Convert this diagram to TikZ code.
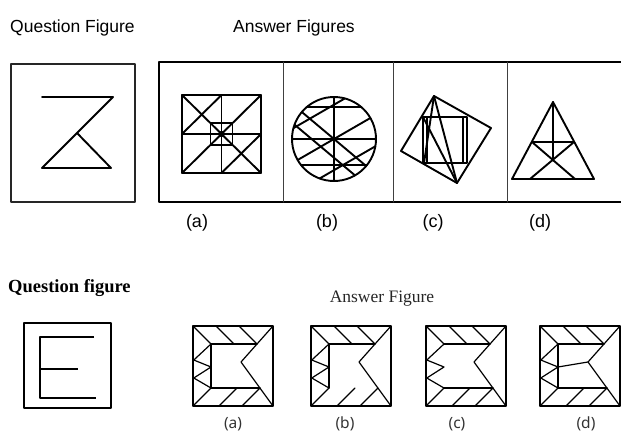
\documentclass[tikz,border=0pt]{standalone}
\usepackage{fontspec}
\setmainfont{Liberation Serif}
\newfontfamily\headsans{Liberation Sans}
\newfontfamily\labsans{Noto Sans}
\newcommand{\frameBase}{%
  \draw[frame] (0,0) rectangle (80,80);
  \draw[inner] (0,0) -- (18,18);
  \draw[inner] (23,0) -- (41,18);
  \draw[inner] (46,0) -- (64,18);
  \draw[inner] (80,0) -- (48,36) -- (80,80);
  \draw[inner] (0,80) -- (18,62);
  \draw[inner] (26,80) -- (44,62);
  \draw[inner] (49,80) -- (67,62);
  \draw[inner] (18,18) -- (64,18);
  \draw[inner] (18,18) -- (0.8,34) -- (18,41) -- (0.8,52) -- (18,62);
}
\begin{document}
\begin{tikzpicture}[x=1pt,y=-1pt,line join=round,line cap=round,
  qbox/.style={draw=black!85,line width=1.6pt},
  fig/.style={line width=1.9pt},
  divline/.style={line width=1pt,black!75},
  frame/.style={line width=2.2pt},
  inner/.style={line width=1.2pt},
  headtxt/.style={font=\headsans\fontsize{17.5}{20}\selectfont,anchor=base west,inner sep=0pt},
  toplab/.style={font=\headsans\fontsize{18}{20}\selectfont,inner sep=0pt,anchor=base},
  botlab/.style={font=\labsans\fontsize{15.5}{18}\selectfont,inner sep=0pt,text=black!80,anchor=base}]
\useasboundingbox (0,0) rectangle (621,434);

% ---------- top headings ----------
\node[headtxt] (qhead) at (10,32) {Question Figure};
\node[headtxt] (ahead) at (233,32) {Answer Figures};

% ---------- top question figure ----------
\draw[qbox] (11,64) rectangle (135,202);
\draw[fig] (42,97) -- (113,97) -- (42,168) -- (111,168) -- (77,133);

% ---------- top answer box ----------
\draw[line width=1.8pt] (621,62) -- (159,62) -- (159,202) -- (621,202);
\draw[divline] (283,62) -- (283,202);
\draw[divline] (393,62) -- (393,202);
\draw[divline] (507,62) -- (507,202);

% (a) square figure
\draw[fig] (182,95) rectangle (261,173);
\draw[fig] (221.5,95) -- (221.5,173);
\draw[fig] (182,134) -- (261,134);
\draw[fig] (182,173) -- (261,95);
\draw[fig] (182,95) -- (221.5,134) -- (261,173);
\draw[fig] (182,134) -- (221.5,95);
\draw[fig] (221.5,173) -- (261,134);
\draw[fig] (210.5,123) rectangle (232.5,145);
\fill (221.5,134) circle[radius=3.2];

% (b) circle figure
\begin{scope}[shift={(334,139)},yscale=-1]
\draw[fig] (0,0) circle[radius=42];
\draw[fig] (90:42) -- (270:42);
\draw[fig] (180:42) -- (0:42);
\draw[fig] (130.4:42) -- (49.6:42);
\draw[fig] (218.2:42) -- (321.8:42);
\draw[fig] (210:42) -- (30:42);
\draw[fig] (165:42) -- (75:42);
\draw[fig] (250:42) -- (350:42);
\draw[fig] (140:42) -- (320:42);
\draw[fig] (160:42) -- (300:42);
\end{scope}

% (c) tilted square figure
\draw[fig] (434,96) -- (491,128) -- (457,183) -- (401,151) -- cycle;
\draw[fig] (423,117) rectangle (467,163);
\draw[fig] (427,117) -- (427,163);
\draw[fig] (463,117) -- (463,163);
\draw[fig] (434,96) -- (457,183);
\draw[fig] (434,96) -- (424,163);
\draw[fig] (423,117) -- (457,183);

% (d) triangle figure
\draw[fig] (553,102) -- (594,179) -- (512,179) -- cycle;
\draw[fig] (532,142) -- (574,142);
\draw[fig] (553,102) -- (553,160);
\draw[fig] (532,142) -- (575,179);
\draw[fig] (574,142) -- (530,179);

% top labels
\node[toplab] (ta) at (197,227) {(a)};
\node[toplab] (tb) at (327,227) {(b)};
\node[toplab] (tc) at (433,227) {(c)};
\node[toplab] (td) at (540,227) {(d)};

% ---------- bottom headings ----------
\node[anchor=base west,inner sep=0pt,font=\bfseries\fontsize{18.5}{22}\selectfont] (qhead2) at (8,292) {Question figure};
\node[anchor=base,inner sep=0pt,font=\fontsize{17.5}{21}\selectfont,text=black!85] (ahead2) at (382,302) {Answer Figure};

% bottom question figure
\draw[frame] (24,323) rectangle (111,408);
\draw[line width=1.4pt,line cap=butt] (94,337) -- (40,337) -- (40,398) -- (96,398);
\draw[line width=1.4pt,line cap=butt] (40,369) -- (78,369);

% bottom answer (a)
\begin{scope}[shift={(193,326)}]
\frameBase
\draw[inner] (18,18) -- (18,62);
\draw[inner] (18,62) -- (67,62);
\end{scope}
% bottom answer (b)
\begin{scope}[shift={(311,326)}]
\frameBase
\draw[inner] (18,18) -- (18,62);
\end{scope}
% bottom answer (c)
\begin{scope}[shift={(426,326)}]
\frameBase
\draw[inner] (18,62) -- (67,62);
\end{scope}
% bottom answer (d)
\begin{scope}[shift={(540,326)}]
\frameBase
\draw[inner] (18,18) -- (18,62);
\draw[inner] (18,62) -- (67,62);
\draw[inner] (18,41) -- (48,36);
\end{scope}

% bottom labels
\node[botlab] (ba) at (233,428) {(a)};
\node[botlab] (bb) at (345,428) {(b)};
\node[botlab] (bc) at (457,428) {(c)};
\node[botlab] (bd) at (586,428) {(d)};
\end{tikzpicture}
\end{document}
